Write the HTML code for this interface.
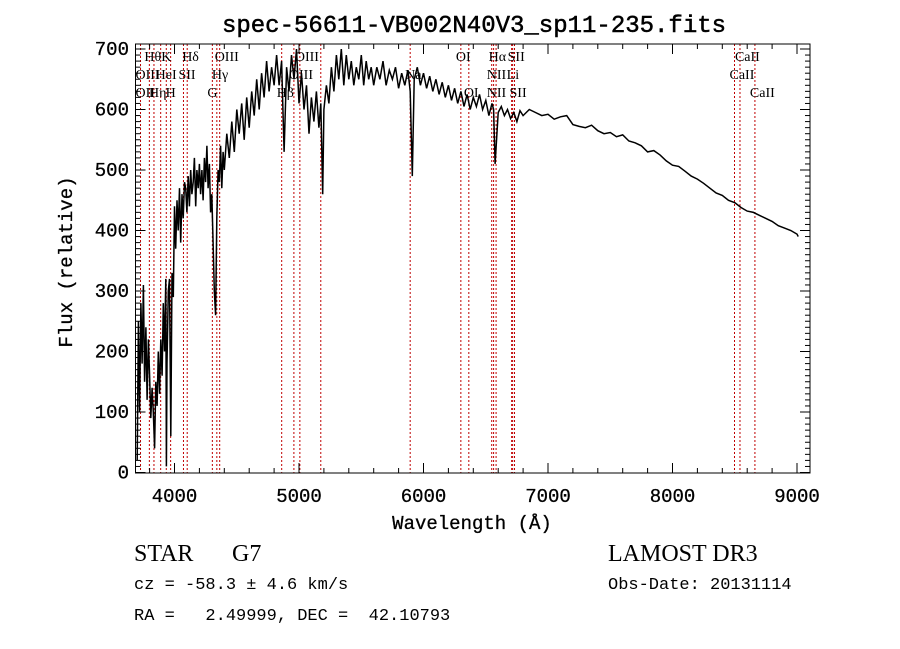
<!DOCTYPE html>
<html><head><meta charset="utf-8"><style>
body{margin:0;background:#fff;}
svg{display:block;}
text{font-family:"Liberation Serif",serif;}
.mono{font-family:"Liberation Mono",monospace;}
</style></head><body>
<svg id="chart" width="900" height="649" viewBox="0 0 900 649" xmlns="http://www.w3.org/2000/svg">
<text class="mono" x="474" y="32" font-size="24" stroke="#000" stroke-width="0.5" text-anchor="middle">spec-56611-VB002N40V3_sp11-235.fits</text>
<text class="mono" x="0" y="0" font-size="19" stroke="#000" stroke-width="0.3" text-anchor="middle" transform="translate(72,262) rotate(-90)">Flux (relative)</text>
<text class="mono" x="472" y="529" font-size="19" stroke="#000" stroke-width="0.3" text-anchor="middle">Wavelength (Å)</text>
<text x="134" y="561" font-size="24">STAR</text>
<text x="232" y="561" font-size="24">G7</text>
<text x="608" y="561" font-size="24">LAMOST DR3</text>
<text class="mono" x="134" y="589" font-size="17">cz = -58.3 ± 4.6 km/s</text>
<text class="mono" x="608" y="589" font-size="17">Obs-Date: 20131114</text>
<text class="mono" x="134" y="620" font-size="17" xml:space="preserve">RA =   2.49999, DEC =  42.10793</text>
<g id="plot"></g>
</svg>
<script>
const wavelengths=[3700,3710,3720,3730,3740,3750,3760,3770,3780,3790,3800,3810,3820,3830,3840,3850,3860,3870,3880,3890,3900,3910,3920,3930,3935,3940,3950,3960,3970,3980,3990,
4000,4010,4020,4030,4040,4050,4060,4070,4080,4090,4100,4110,4120,4130,4140,4150,4160,4170,4180,4190,4200,4210,4220,4230,4240,4250,4260,4270,4280,4290,4300,4310,4320,4330,4340,4350,4360,4370,4380,4390,4400,
4420,4440,4460,4480,4500,4520,4540,4560,4580,4600,4620,4640,4660,4680,4700,4720,4740,4760,4780,4800,4820,4840,4860,4880,4900,4920,4940,4960,4980,5000,5020,5040,5060,5080,5100,5120,5140,5160,5175,5190,5200,5220,5240,5260,5280,5300,5320,5340,5360,5380,5400,5420,5440,5460,5480,5500,5520,5540,5560,5580,5600,
5625,5650,5675,5700,5725,5750,5775,5800,5825,5850,5875,5893,5910,5925,5950,5975,6000,6025,6050,6075,6100,6125,6150,6175,6200,6225,6250,6275,6300,6325,6350,6375,6400,6425,6450,6475,6500,6525,6550,6563,6575,6600,6625,6650,6675,6700,6725,6750,6775,6800,
6850,6900,6950,7000,7050,7100,7150,7200,7250,7300,7350,7400,7450,7500,7550,7600,7650,7700,7750,7800,7850,7900,7950,8000,8050,8100,8150,8200,8250,8300,8350,8400,8450,8500,8550,8600,8650,8700,8750,8800,8850,8900,8950,9000,9010];
const flux=[20,250,100,280,180,310,150,240,120,220,160,90,140,100,40,150,110,200,130,220,160,280,200,320,10,180,300,320,60,330,290,
440,370,450,400,470,380,460,420,480,470,430,490,440,500,460,480,520,440,500,470,510,460,500,450,520,480,540,470,510,430,460,380,300,260,420,500,480,540,470,530,500,560,
520,580,530,600,560,610,550,620,570,630,590,650,600,660,620,680,630,670,640,690,640,680,530,670,630,690,650,700,610,660,600,640,560,620,580,630,570,610,460,600,640,610,670,630,690,650,700,640,690,650,680,640,670,650,690,640,680,650,670,640,670,
650,680,640,665,650,670,635,660,640,665,630,490,650,670,640,660,635,655,630,650,625,645,620,640,615,635,610,630,605,625,600,620,605,625,600,615,590,610,600,510,595,605,590,600,585,595,580,598,590,600,
595,590,592,584,588,590,575,572,570,574,565,560,562,555,558,548,545,540,530,532,525,515,508,506,498,490,485,478,470,462,458,450,446,438,432,430,425,420,415,408,404,400,394,390,80];
const lineWl=[3727,3798,3835,3889,3934,3969,4072,4102,4304,4340,4363,4861,4959,5007,5175,5893,6300,6364,6548,6563,6583,6708,6716,6731,8498,8542,8662];
const lineLabels=[["OII",3727,3],["OIII",3727,2],["Hθ",3798,1],["Hη",3835,3],["HeI",3889,2],["K",3934,1],["H",3969,3],["SII",4072,2],["Hδ",4102,1],["G",4304,3],["Hγ",4340,2],["OIII",4363,1],["Hβ",4861,3],["OIII",4959,2],["OIII",5007,1],["Na",5893,2],["OI",6300,1],["OI",6364,3],["NII",6548,2],["NII",6548,3],["Hα",6563,1],["SII",6716,1],["Li",6708,2],["SII",6731,3],["CaII",8542,1],["CaII",8498,2],["CaII",8662,3]];
const xTicks=[4000,5000,6000,7000,8000,9000];
const yTicks=[0,100,200,300,400,500,600,700];
const L=135.5,R=810,T=44,B=473;
const X=w=>174.5+(w-4000)*0.1245;
const Y=f=>472.5-f*0.605;
const NS="http://www.w3.org/2000/svg";
const g=document.getElementById('plot');
function mk(t,a,p){const e=document.createElementNS(NS,t);for(const k in a)e.setAttribute(k,a[k]);(p||g).appendChild(e);return e;}
lineWl.forEach(w=>{const l=mk('line',{x1:X(w),x2:X(w),y1:T,y2:B,stroke:'#c00000','stroke-width':1,'stroke-dasharray':'2,2'});

});
lineLabels.forEach(([s,w,r])=>{const t=mk('text',{x:X(w)-5,y:[0,61,79,97][r],'font-size':14});t.textContent=s;

});
const cp=mk('clipPath',{id:'c'});mk('rect',{x:L,y:T,width:R-L,height:B-T},cp);
const d=wavelengths.map((w,i)=>(i?'L':'M')+X(w).toFixed(1)+','+Y(Math.max(0,flux[i])).toFixed(1)).join('');
const p=mk('path',{d:d,fill:'none',stroke:'#000','stroke-width':1.5,'clip-path':'url(#c)'});


const fr=mk('rect',{x:L,y:T,width:R-L,height:B-T,fill:'none',stroke:'#000','stroke-width':1});


for(let w=3800;w<=9100;w+=200){const x=X(w);const big=w%1000===0;const len=big?10:5;
mk('line',{x1:x,x2:x,y1:B,y2:B-len,stroke:'#000'});mk('line',{x1:x,x2:x,y1:T,y2:T+len,stroke:'#000'});}
for(let f=0;f<=700;f+=10){const y=Y(f);const big=f%100===0;const len=big?10:5;
mk('line',{x1:L,x2:L+len,y1:y,y2:y,stroke:'#000'});mk('line',{x1:R,x2:R-len,y1:y,y2:y,stroke:'#000'});}
xTicks.forEach(w=>{const t=mk('text',{x:X(w),y:502,'font-size':19,'text-anchor':'middle',class:'mono',stroke:'#000','stroke-width':0.3});t.textContent=w;

});
yTicks.forEach(f=>{const t=mk('text',{x:129,y:Y(f)+6,'font-size':19,'text-anchor':'end',class:'mono',stroke:'#000','stroke-width':0.3});t.textContent=f;

});
</script>
</body></html>
